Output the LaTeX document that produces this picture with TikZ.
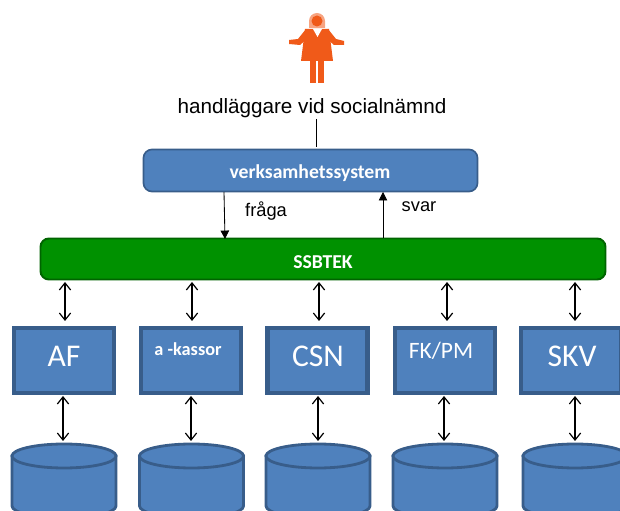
\documentclass[tikz,border=0pt]{standalone}
\usepackage{fontspec}
\setmainfont{Carlito}
\newfontfamily\labelfont{Liberation Sans}
\usetikzlibrary{arrows.meta,positioning}
\definecolor{boxblue}{RGB}{79,129,189}
\definecolor{boxedge}{RGB}{56,93,138}
\definecolor{ssbgreen}{RGB}{0,145,0}
\definecolor{ssbedge}{RGB}{0,100,0}
\definecolor{figorange}{RGB}{240,90,25}
\newcommand{\pxu}{*0.025cm}
\tikzset{
  orgbox/.style={draw=boxedge,line width=3.2pt,fill=boxblue,minimum width=100\pxu,minimum height=65\pxu,inner sep=0pt},
  orglabel/.style={text=white,inner sep=0pt},
  arr/.style={{Straight Barb[length=5pt,width=8pt]}-{Straight Barb[length=5pt,width=8pt]},line width=0.85pt},
  flow/.style={-{Triangle[length=6pt,width=6pt]},line width=0.6pt},
  db/.style={draw=boxedge,line width=2pt,fill=boxblue}
}
\begin{document}
\begin{tikzpicture}[x=0.025cm,y=-0.025cm]
\useasboundingbox (0,0) rectangle (620,511);
% person
\fill[figorange] (305,29) -- (329,29) -- (333,61) -- (301,61) -- cycle;
\fill[figorange] (306,29) -- (298,39) -- (289,40) -- (289,44) -- (300,45) -- (308,38) -- cycle;
\fill[figorange] (328,29) -- (336,39) -- (344,41) -- (344,45) -- (334,45) -- (326,38) -- cycle;
\fill[figorange] (310,60) rectangle (316,83);
\fill[figorange] (318,60) rectangle (324,83);
\fill[white] (313,29) -- (322,29) -- (317.5,37) -- cycle;
\fill[figorange!55] (309,28) -- (309,21) arc (180:360:8) -- (325,28) -- cycle;
\fill[figorange] (317,21) circle (5.5);
% top part
\node (handl) at (312,108) {\labelfont\fontsize{14.7pt}{17pt}\selectfont handläggare vid socialnämnd};
\node[draw=boxedge,line width=1.2pt,fill=boxblue,rounded corners=6pt,minimum width=334\pxu,minimum height=42\pxu,inner sep=0pt] (verk) at (310.5,170.5) {};
\node[orglabel,font=\fontsize{14pt}{16pt}\selectfont\bfseries] (verklabel) at (310,173) {verksamhetssystem};
\node[draw=ssbedge,line width=1.4pt,fill=ssbgreen,rounded corners=6pt,minimum width=565\pxu,minimum height=41\pxu,inner sep=0pt] (ssb) at (323,259) {};
\node[orglabel,font=\fontsize{14pt}{16pt}\selectfont\bfseries] (ssblabel) at (323,262) {SSBTEK};
\coordinate (handlbot) at (316.5,119);
\coordinate (verktop) at (316.5,147);
\draw[line width=0.8pt] (handlbot) -- (verktop);
\coordinate (fragatop) at (224,192);
\coordinate (fragabot) at (225,239);
\coordinate (svartop) at (383,192);
\coordinate (svarbot) at (383,238);
\draw[flow] (fragatop) -- (fragabot);
\draw[flow] (svarbot) -- (svartop);
\node (fraga) at (266,211) {\labelfont\fontsize{13pt}{15pt}\selectfont fråga};
\node (svar) at (419,207) {\labelfont\fontsize{13pt}{15pt}\selectfont svar};
% org boxes
\node[orgbox] (af) at (64,360.5) {};
\node[orgbox] (kassa) at (191,360.5) {};
\node[orgbox] (csn) at (317.5,360.5) {};
\node[orgbox] (fk) at (445,360.5) {};
\node[orgbox] (skv) at (571,360.5) {};
\node[orglabel,font=\fontsize{22.5pt}{26pt}\selectfont] (aflabel) at (64,356) {AF};
\node[orglabel,font=\fontsize{13pt}{15pt}\selectfont\bfseries] (kassalabel) at (188,349) {a -kassor};
\node[orglabel,font=\fontsize{22.5pt}{26pt}\selectfont] (csnlabel) at (318,356) {CSN};
\node[orglabel,font=\fontsize{16.7pt}{19pt}\selectfont] (fklabel) at (441,351) {FK/PM};
\node[orglabel,font=\fontsize{22.5pt}{26pt}\selectfont] (skvlabel) at (572,356) {SKV};
% arrows and databases
\foreach \n/\xa/\xb/\xc in {af/65/63/64,kassa/192/191/191.5,csn/319/318/318,fk/447/444/445,skv/575/575/575}{
  \coordinate (\n up) at (\xa,282);
  \coordinate (\n down) at (\xa,321);
  \coordinate (\n out) at (\xb,396);
  \coordinate (\n db) at (\xb,441);
  \draw[arr] (\n up) -- (\n down);
  \draw[arr] (\n out) -- (\n db);
  \draw[db] (\xc-52,456) -- (\xc-52,506) arc (180:360:1.3cm and 0.3cm) -- (\xc+52,456) -- cycle;
  \draw[db] (\xc,456) ellipse (1.3cm and 0.3cm);
}
\end{tikzpicture}
\end{document}
